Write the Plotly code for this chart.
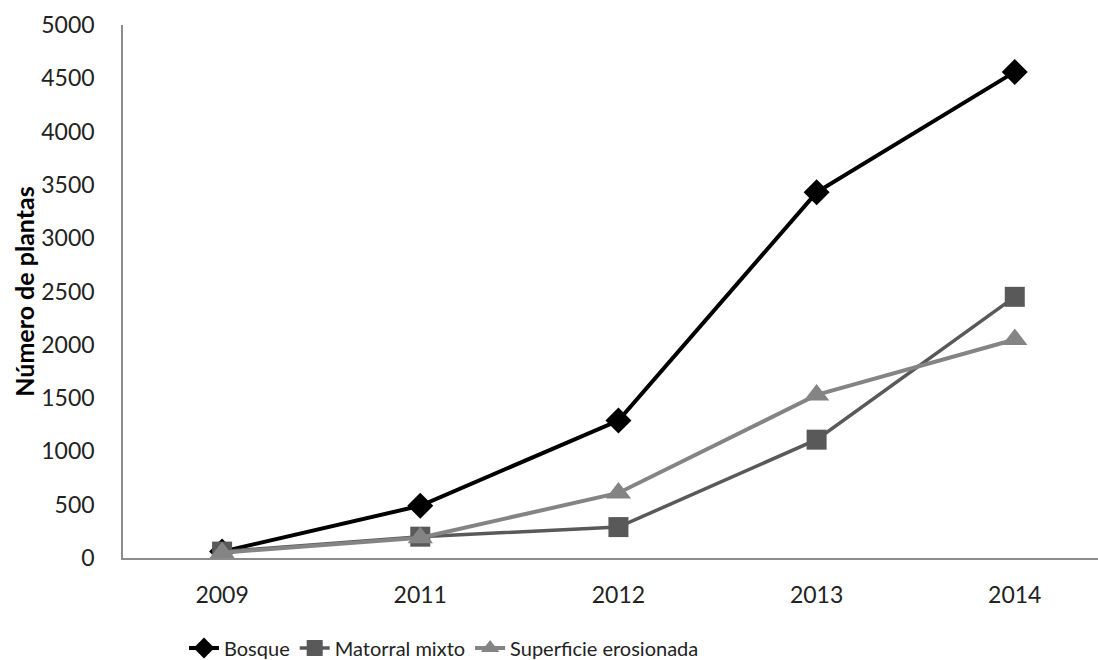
import plotly.graph_objects as go

# Number of plants recorded per year in each land-cover type
years = ["2009", "2011", "2012", "2013", "2014"]
bosque = [60, 490, 1290, 3430, 4560]
matorral_mixto = [60, 200, 290, 1110, 2450]
superficie_erosionada = [50, 190, 610, 1530, 2050]

font_family = "Lato, 'Open Sans', sans-serif"

fig = go.Figure()
fig.add_trace(go.Scatter(
    x=years, y=bosque, name="Bosque", mode="lines+markers",
    line=dict(color="#000000", width=4),
    marker=dict(symbol="diamond", size=20, color="#000000"),
))
fig.add_trace(go.Scatter(
    x=years, y=matorral_mixto, name="Matorral mixto", mode="lines+markers",
    line=dict(color="#595959", width=3.5),
    marker=dict(symbol="square", size=20, color="#595959"),
))
fig.add_trace(go.Scatter(
    x=years, y=superficie_erosionada, name="Superficie erosionada", mode="lines+markers",
    line=dict(color="#848484", width=4),
    marker=dict(symbol="triangle-up", size=22, color="#848484"),
))

fig.update_layout(
    width=1098, height=660,
    margin=dict(l=123, r=0, t=25, b=102),
    paper_bgcolor="white", plot_bgcolor="white",
    font=dict(family=font_family, size=22, color="#222222"),
    showlegend=True,
    legend=dict(
        orientation="h",
        xref="container", x=184 / 1098, xanchor="left",
        yref="container", y=12 / 660, yanchor="middle",
        font=dict(size=20, color="#222222"), itemwidth=30,
        traceorder="normal", tracegroupgap=0,
    ),
)
fig.update_xaxes(
    type="category", range=[-0.5, 4.42],
    showline=True, linecolor="#8c8c8c", linewidth=1.5,
    showgrid=False, zeroline=False,
    ticks="outside", ticklen=16, tickcolor="rgba(0,0,0,0)",
    tickfont=dict(size=23, family=font_family, color="#222222"),
)
fig.update_yaxes(
    range=[0, 5000], dtick=500, tick0=0,
    showline=True, linecolor="#8c8c8c", linewidth=1.5,
    showgrid=False, zeroline=False,
    ticks="outside", ticklen=22, tickcolor="rgba(0,0,0,0)",
    tickfont=dict(size=23, family=font_family, color="#222222"),
    title=dict(text="<b>Número de plantas</b>", standoff=0,
               font=dict(size=25, family=font_family, color="#000000")),
)

fig.write_html("out.html")
